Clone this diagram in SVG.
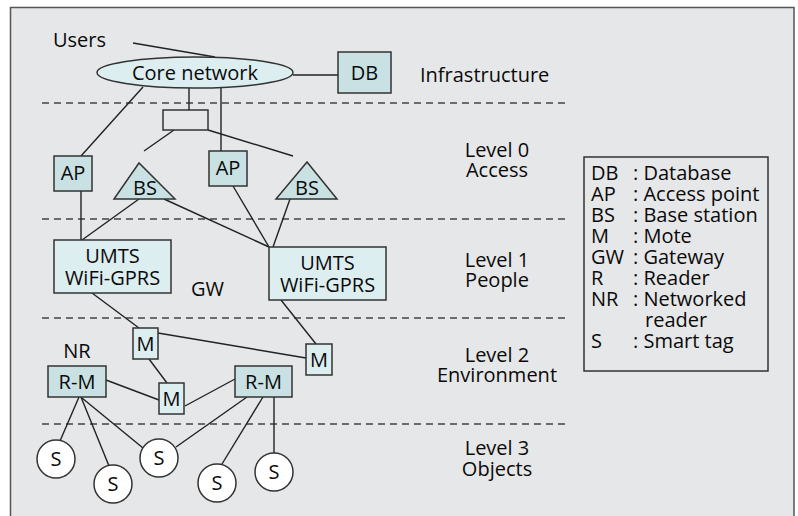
<svg xmlns="http://www.w3.org/2000/svg" width="798" height="516" viewBox="0 0 798 516">
<style>
text{font-family:"Open Sans","Liberation Sans",sans-serif;font-size:20px;fill:#0a0a0a}
.c{text-anchor:middle}
.dk{fill:#c9e1e3;stroke:#333;stroke-width:1.5}
.lt{fill:#ddeef1;stroke:#333;stroke-width:1.5}
.wt{fill:#fff;stroke:#333;stroke-width:1.5}
#connectors line{stroke:#222;stroke-width:1.4}
.dash{stroke:#444;stroke-width:1.3;stroke-dasharray:7 5}
</style>
<rect x="0" y="0" width="798" height="516" fill="#fff"/>
<path d="M10.5 520 V7.5 H794 V520" fill="#e6e7e8" stroke="#555" stroke-width="1.5"/>
<g id="dividers">
<line class="dash" x1="42" y1="103" x2="567" y2="103"/>
<line class="dash" x1="42" y1="219" x2="567" y2="219"/>
<line class="dash" x1="42" y1="318" x2="567" y2="318"/>
<line class="dash" x1="42" y1="424" x2="567" y2="424"/>
</g>
<g id="connectors">
<line x1="133" y1="43" x2="215" y2="57"/>
<line x1="293" y1="75" x2="338" y2="75"/>
<line x1="189" y1="88" x2="189" y2="110"/>
<line x1="221" y1="88" x2="221" y2="151"/>
<line x1="143" y1="87" x2="81" y2="156"/>
<line x1="174" y1="130" x2="144" y2="151"/>
<line x1="208" y1="130" x2="293" y2="156"/>
<line x1="81" y1="191" x2="81" y2="240"/>
<line x1="139" y1="199" x2="82" y2="240"/>
<line x1="164" y1="199" x2="269" y2="247"/>
<line x1="233" y1="186" x2="269" y2="247"/>
<line x1="290" y1="199" x2="273" y2="247"/>
<line x1="92" y1="293" x2="139" y2="328"/>
<line x1="281" y1="300" x2="316" y2="344"/>
<line x1="158" y1="333" x2="306" y2="358"/>
<line x1="149" y1="359" x2="167" y2="383"/>
<line x1="106" y1="380" x2="159" y2="400"/>
<line x1="185" y1="406" x2="235" y2="379"/>
<line x1="79" y1="397" x2="60" y2="441"/>
<line x1="81" y1="397" x2="109" y2="466"/>
<line x1="82" y1="398" x2="143" y2="448"/>
<line x1="247" y1="397" x2="176" y2="447"/>
<line x1="263" y1="397" x2="222" y2="464"/>
<line x1="274" y1="397" x2="274" y2="453"/>
</g>
<text x="53" y="47">Users</text>
<g id="core"><ellipse class="lt" cx="195" cy="72.5" rx="98" ry="15.5"/><text class="c" x="195" y="80">Core network</text></g>
<g id="db"><rect class="dk" x="338" y="52" width="53" height="41"/><text class="c" x="364.5" y="80">DB</text></g>
<g id="hub"><rect fill="none" stroke="#333" stroke-width="1.5" x="163" y="110" width="45" height="20"/></g>
<g id="ap1"><rect class="dk" x="54" y="156" width="38" height="35"/><text class="c" x="73" y="180">AP</text></g>
<g id="bs1"><polygon class="dk" points="139,163 114,199 175,199"/><text class="c" x="145" y="195">BS</text></g>
<g id="ap2"><rect class="dk" x="209" y="151" width="38" height="35"/><text class="c" x="228" y="175">AP</text></g>
<g id="bs2"><polygon class="dk" points="307,162 276,199 337,199"/><text class="c" x="307" y="195">BS</text></g>
<g id="gw1"><rect class="lt" x="54" y="240" width="117" height="53"/><text class="c"><tspan x="112.5" y="263">UMTS</tspan><tspan x="112.5" y="285">WiFi-GPRS</tspan></text></g>
<g id="gw2"><rect class="lt" x="269" y="247" width="117" height="53"/><text class="c"><tspan x="327.5" y="270">UMTS</tspan><tspan x="327.5" y="292">WiFi-GPRS</tspan></text></g>
<text class="c" x="207.5" y="296">GW</text>
<g id="m1"><rect class="lt" x="133" y="328" width="25" height="31"/><text class="c" x="145.5" y="351">M</text></g>
<g id="m2"><rect class="lt" x="159" y="383" width="25" height="31"/><text class="c" x="171.5" y="406">M</text></g>
<g id="m3"><rect class="lt" x="306" y="344" width="26" height="31"/><text class="c" x="319" y="367">M</text></g>
<text class="c" x="77" y="358">NR</text>
<g id="rm1"><rect class="dk" x="48" y="366" width="58" height="31"/><text class="c" x="77" y="389">R-M</text></g>
<g id="rm2"><rect class="dk" x="235" y="366" width="57" height="31"/><text class="c" x="263.5" y="389">R-M</text></g>
<g id="s1"><circle class="wt" cx="56" cy="459" r="19"/><text class="c" x="56" y="466">S</text></g>
<g id="s2"><circle class="wt" cx="113" cy="484" r="19"/><text class="c" x="113" y="491">S</text></g>
<g id="s3"><circle class="wt" cx="159" cy="458" r="19"/><text class="c" x="159" y="465">S</text></g>
<g id="s4"><circle class="wt" cx="217" cy="483" r="19"/><text class="c" x="217" y="490">S</text></g>
<g id="s5"><circle class="wt" cx="274" cy="472" r="19"/><text class="c" x="274" y="479">S</text></g>
<g id="levels">
<text x="420" y="82">Infrastructure</text>
<text class="c"><tspan x="497" y="157">Level 0</tspan><tspan x="497" y="177">Access</tspan></text>
<text class="c"><tspan x="497" y="267">Level 1</tspan><tspan x="497" y="287">People</tspan></text>
<text class="c"><tspan x="497" y="362">Level 2</tspan><tspan x="497" y="382">Environment</tspan></text>
<text class="c"><tspan x="497" y="455">Level 3</tspan><tspan x="497" y="476">Objects</tspan></text>
</g>
<g id="legend">
<rect x="584" y="157" width="184" height="214" fill="none" stroke="#333" stroke-width="1.5"/>
<text><tspan x="591" y="180">DB</tspan><tspan x="633" y="180">: Database</tspan><tspan x="591" y="201">AP</tspan><tspan x="633" y="201">: Access point</tspan><tspan x="591" y="222">BS</tspan><tspan x="633" y="222">: Base station</tspan><tspan x="591" y="243">M</tspan><tspan x="633" y="243">: Mote</tspan><tspan x="591" y="264">GW</tspan><tspan x="633" y="264">: Gateway</tspan><tspan x="591" y="285">R</tspan><tspan x="633" y="285">: Reader</tspan><tspan x="591" y="306">NR</tspan><tspan x="633" y="306">: Networked</tspan><tspan x="645" y="327">reader</tspan><tspan x="591" y="348">S</tspan><tspan x="633" y="348">: Smart tag</tspan></text>
</g>
</svg>
